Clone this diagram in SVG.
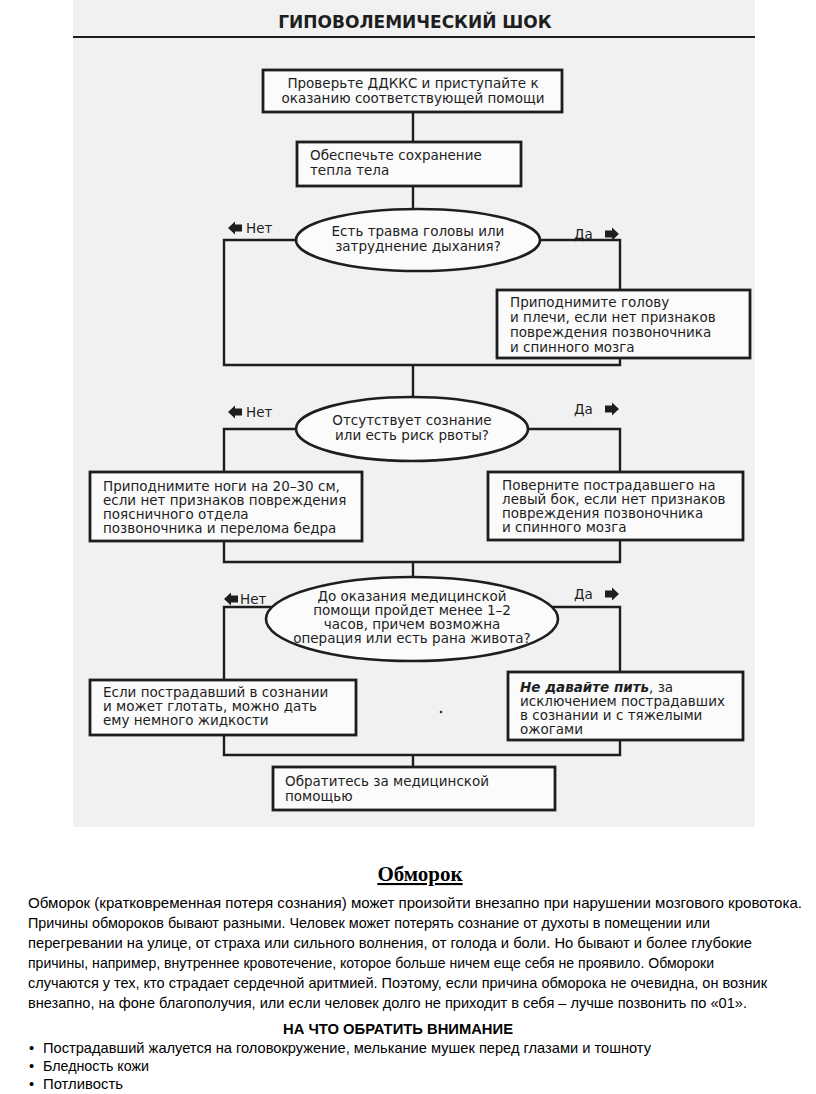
<svg xmlns="http://www.w3.org/2000/svg" xmlns:xlink="http://www.w3.org/1999/xlink" width="816" height="1094" viewBox="0 0 816 1094">
<style>
.box{fill:#fbfbfb;stroke:#1e1e1e;stroke-width:2.8}
.ell{fill:#fbfbfb;stroke:#1e1e1e;stroke-width:2.6}
.con{fill:none;stroke:#1e1e1e;stroke-width:2.4}
.t{font-family:"DejaVu Sans","Liberation Sans",Arial,sans-serif;font-size:13.5px;fill:#1e1e1e}
.c{text-anchor:middle}
.lab{font-family:"DejaVu Sans","Liberation Sans",Arial,sans-serif;font-size:13.5px;fill:#1e1e1e}
.p{font-family:"Liberation Sans",Arial,sans-serif;font-size:14.6px;fill:#000}
</style>
<defs>
<polygon id="al" points="0,0 7,-6.5 7,-3.5 14,-3.5 14,3.5 7,3.5 7,6.5" fill="#1e1e1e"/>
<polygon id="ar" points="0,0 -7,-6.5 -7,-3.5 -14,-3.5 -14,3.5 -7,3.5 -7,6.5" fill="#1e1e1e"/>
</defs>
<rect x="0" y="0" width="816" height="1094" fill="#fff"/>
<rect x="73" y="0" width="682" height="827" fill="#f1f1f1"/>
<g id="title">
<text x="415" y="28" class="c" style="font-family:'DejaVu Sans','Liberation Sans',Arial,sans-serif;font-size:17px;font-weight:bold;fill:#1e1e1e">ГИПОВОЛЕМИЧЕСКИЙ ШОК</text>
<line x1="73" y1="37" x2="755" y2="37" stroke="#1e1e1e" stroke-width="2"/>
</g>
<g id="connectors">
<line class="con" x1="413" y1="112" x2="413" y2="142"/>
<line class="con" x1="413" y1="186" x2="413" y2="209"/>
<polyline class="con" points="296,240 224,240 224,365 620,365 620,358"/>
<polyline class="con" points="540,240 620,240 620,290"/>
<line class="con" x1="413" y1="365" x2="413" y2="397"/>
<polyline class="con" points="296,429 224,429 224,472"/>
<polyline class="con" points="528,429 620,429 620,472"/>
<polyline class="con" points="224,541 224,562 620,562 620,540"/>
<line class="con" x1="413" y1="562" x2="413" y2="577"/>
<polyline class="con" points="273,607 224,607 224,680"/>
<polyline class="con" points="551,607 620,607 620,672"/>
<polyline class="con" points="224,735 224,755 620,755 620,740"/>
<line class="con" x1="413" y1="755" x2="413" y2="767"/>
</g>
<g id="n1">
<rect class="box" x="263" y="70" width="299" height="42"/>
<text class="t c" x="413" y="88">Проверьте ДДККС и приступайте к</text>
<text class="t c" x="413" y="103">оказанию соответствующей помощи</text>
</g>
<g id="n2">
<rect class="box" x="297" y="142" width="224" height="44"/>
<text class="t" x="310" y="160">Обеспечьте сохранение</text>
<text class="t" x="310" y="175">тепла тела</text>
</g>
<g id="d1">
<ellipse class="ell" cx="418" cy="240" rx="122" ry="31"/>
<text class="t c" x="418" y="236">Есть травма головы или</text>
<text class="t c" x="418" y="251">затруднение дыхания?</text>
<use xlink:href="#al" x="228" y="228"/>
<text class="lab" x="246" y="233">Нет</text>
<text class="lab" x="574" y="239">Да</text>
<use xlink:href="#ar" x="619" y="234"/>
</g>
<g id="n3">
<rect class="box" x="497" y="290" width="253" height="68"/>
<text class="t" x="510" y="307" font-size="14.3">Приподнимите голову</text>
<text class="t" x="510" y="322" font-size="14.3">и плечи, если нет признаков</text>
<text class="t" x="510" y="337" font-size="14.3">повреждения позвоночника</text>
<text class="t" x="510" y="352" font-size="14.3">и спинного мозга</text>
</g>
<g id="d2">
<ellipse class="ell" cx="412" cy="429" rx="116" ry="32"/>
<text class="t c" x="412" y="425">Отсутствует сознание</text>
<text class="t c" x="412" y="440">или есть риск рвоты?</text>
<use xlink:href="#al" x="228" y="412"/>
<text class="lab" x="246" y="417">Нет</text>
<text class="lab" x="574" y="414">Да</text>
<use xlink:href="#ar" x="619" y="409"/>
</g>
<g id="n4">
<rect class="box" x="90" y="472" width="272" height="69"/>
<text class="t" x="103" y="491">Приподнимите ноги на 20–30 см,</text>
<text class="t" x="103" y="505">если нет признаков повреждения</text>
<text class="t" x="103" y="519">поясничного отдела</text>
<text class="t" x="103" y="533">позвоночника и перелома бедра</text>
</g>
<g id="n5">
<rect class="box" x="488" y="472" width="255" height="68"/>
<text class="t" x="502" y="490">Поверните пострадавшего на</text>
<text class="t" x="502" y="504">левый бок, если нет признаков</text>
<text class="t" x="502" y="518">повреждения позвоночника</text>
<text class="t" x="502" y="532">и спинного мозга</text>
</g>
<g id="d3">
<ellipse class="ell" cx="412" cy="619" rx="146" ry="42"/>
<text class="t c" x="412" y="601" font-size="13">До оказания медицинской</text>
<text class="t c" x="412" y="615" font-size="13">помощи пройдет менее 1–2</text>
<text class="t c" x="412" y="629" font-size="13">часов, причем возможна</text>
<text class="t c" x="412" y="643" font-size="13">операция или есть рана живота?</text>
<use xlink:href="#al" x="224" y="599"/>
<text class="lab" x="240" y="604">Нет</text>
<text class="lab" x="574" y="599">Да</text>
<use xlink:href="#ar" x="619" y="594"/>
</g>
<g id="n6">
<rect class="box" x="90" y="680" width="266" height="55"/>
<text class="t" x="103" y="697">Если пострадавший в сознании</text>
<text class="t" x="103" y="711">и может глотать, можно дать</text>
<text class="t" x="103" y="725">ему немного жидкости</text>
</g>
<g id="n7">
<rect class="box" x="508" y="672" width="235" height="68"/>
<text class="t" x="520" y="692"><tspan font-weight="bold" font-style="italic">Не давайте пить</tspan>, за</text>
<text class="t" x="520" y="706">исключением пострадавших</text>
<text class="t" x="520" y="720">в сознании и с тяжелыми</text>
<text class="t" x="520" y="734">ожогами</text>
</g>
<g id="n8">
<rect class="box" x="273" y="767" width="282" height="43"/>
<text class="t" x="285" y="786">Обратитесь за медицинской</text>
<text class="t" x="285" y="801">помощью</text>
</g>
<circle cx="441" cy="712" r="1.3" fill="#333"/>
<g id="text">
<text x="420" y="881" text-anchor="middle" style="font-family:'Liberation Serif','Times New Roman',serif;font-size:21px;font-weight:bold;text-decoration:underline">Обморок</text>
<text class="p" x="28" y="908" textLength="774" lengthAdjust="spacingAndGlyphs">Обморок (кратковременная потеря сознания) может произойти внезапно при нарушении мозгового кровотока.</text>
<text class="p" x="28" y="928" textLength="682" lengthAdjust="spacingAndGlyphs">Причины обмороков бывают разными. Человек может потерять сознание от духоты в помещении или</text>
<text class="p" x="28" y="948" textLength="724" lengthAdjust="spacingAndGlyphs">перегревании на улице, от страха или сильного волнения, от голода и боли. Но бывают и более глубокие</text>
<text class="p" x="28" y="968" textLength="686" lengthAdjust="spacingAndGlyphs">причины, например, внутреннее кровотечение, которое больше ничем еще себя не проявило. Обмороки</text>
<text class="p" x="28" y="988" textLength="739" lengthAdjust="spacingAndGlyphs">случаются у тех, кто страдает сердечной аритмией. Поэтому, если причина обморока не очевидна, он возник</text>
<text class="p" x="28" y="1008" textLength="719" lengthAdjust="spacingAndGlyphs">внезапно, на фоне благополучия, или если человек долго не приходит в себя – лучше позвонить по «01».</text>
<text class="p" x="398" y="1034" text-anchor="middle" font-weight="bold" textLength="230" lengthAdjust="spacingAndGlyphs">НА ЧТО ОБРАТИТЬ ВНИМАНИЕ</text>
<text class="p" x="29" y="1053">•</text>
<text class="p" x="43" y="1053" textLength="608" lengthAdjust="spacingAndGlyphs">Пострадавший жалуется на головокружение, мелькание мушек перед глазами и тошноту</text>
<text class="p" x="29" y="1071">•</text>
<text class="p" x="43" y="1071" textLength="106" lengthAdjust="spacingAndGlyphs">Бледность кожи</text>
<text class="p" x="29" y="1089">•</text>
<text class="p" x="43" y="1089" textLength="80" lengthAdjust="spacingAndGlyphs">Потливость</text>
</g>
</svg>
